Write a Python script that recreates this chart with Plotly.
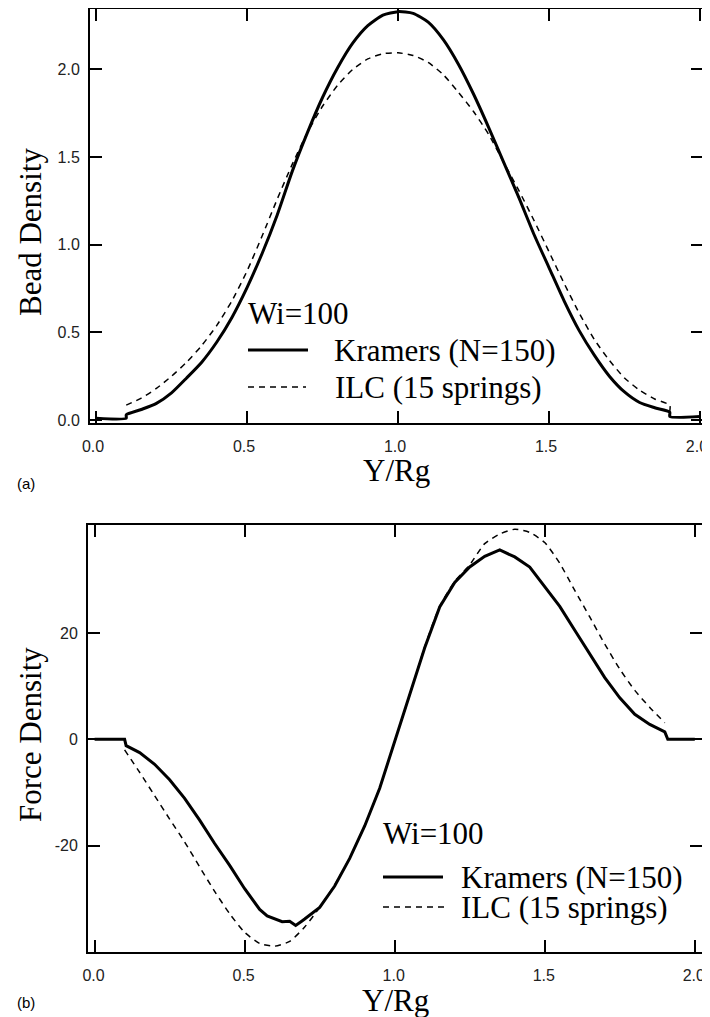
import plotly.graph_objects as go

# ---------------- data ----------------
# Panel (a): bead density
xa_kramers = [0.0, 0.1, 0.1, 0.15, 0.2, 0.25, 0.3, 0.35, 0.4, 0.45, 0.5, 0.55, 0.6, 0.65, 0.7,
              0.75, 0.8, 0.85, 0.9, 0.95, 1.0, 1.05, 1.1, 1.15, 1.2, 1.25, 1.3, 1.35, 1.4,
              1.45, 1.5, 1.55, 1.6, 1.65, 1.7, 1.75, 1.8, 1.85, 1.9, 1.9, 2.0]
ya_kramers = [0.01, 0.01, 0.03, 0.06, 0.095, 0.155, 0.24, 0.33, 0.445, 0.585, 0.755, 0.95, 1.17, 1.42, 1.64,
              1.84, 2.01, 2.15, 2.25, 2.31, 2.33, 2.32, 2.27, 2.17, 2.03, 1.86, 1.67, 1.47, 1.27,
              1.06, 0.87, 0.68, 0.51, 0.37, 0.25, 0.16, 0.10, 0.07, 0.045, 0.02, 0.02]

xa_ilc = [0.1, 0.15, 0.2, 0.25, 0.3, 0.35, 0.4, 0.45, 0.5, 0.55, 0.6, 0.65, 0.7, 0.75, 0.8,
          0.85, 0.9, 0.95, 1.0, 1.05, 1.1, 1.15, 1.2, 1.25, 1.3, 1.35, 1.4, 1.45, 1.5, 1.55,
          1.6, 1.65, 1.7, 1.75, 1.8, 1.85, 1.9, 1.9]
ya_ilc = [0.085, 0.125, 0.18, 0.25, 0.33, 0.425, 0.54, 0.68, 0.85, 1.05, 1.26, 1.46, 1.64, 1.79, 1.91,
          2.00, 2.06, 2.09, 2.095, 2.08, 2.04, 1.97, 1.87, 1.76, 1.63, 1.47, 1.31, 1.14, 0.96, 0.78,
          0.61, 0.46, 0.34, 0.24, 0.17, 0.12, 0.085, 0.05]

# Panel (b): force density
xb_kramers = [0.0, 0.1, 0.105, 0.15, 0.2, 0.25, 0.3, 0.35, 0.4, 0.45, 0.5, 0.55, 0.575, 0.6, 0.625,
              0.65, 0.67, 0.69, 0.7, 0.75, 0.8, 0.85, 0.9, 0.95, 1.0, 1.05, 1.1, 1.15, 1.2, 1.25,
              1.3, 1.35, 1.375, 1.4, 1.45, 1.5, 1.55, 1.6, 1.65, 1.7, 1.75, 1.8, 1.85, 1.9, 1.91, 2.0]
yb_kramers = [0.0, 0.0, -1.2, -2.5, -4.7, -7.6, -11.1, -15.2, -19.6, -23.7, -28.1, -32.0, -33.2, -33.8, -34.3,
              -34.2, -35.0, -34.2, -33.8, -31.6, -27.6, -22.4, -16.3, -9.2, -0.5, 8.1, 17.2, 24.9, 29.5, 32.4,
              34.4, 35.6, 35.0, 34.3, 32.4, 28.7, 25.0, 20.5, 16.0, 11.6, 7.8, 4.7, 2.8, 1.4, 0.0, 0.0]

xb_ilc = [0.1, 0.15, 0.2, 0.25, 0.3, 0.35, 0.4, 0.45, 0.5, 0.55, 0.6, 0.65, 0.7, 0.75, 0.8,
          0.85, 0.9, 0.95, 1.0, 1.05, 1.1, 1.15, 1.2, 1.25, 1.3, 1.35, 1.4, 1.45, 1.5, 1.55,
          1.6, 1.65, 1.7, 1.75, 1.8, 1.85, 1.9]
yb_ilc = [-2.0, -6.2, -10.6, -15.0, -19.3, -24.0, -28.6, -32.8, -36.3, -38.4, -38.9, -38.0, -35.3, -31.6, -27.4,
          -22.3, -16.2, -9.1, -0.4, 8.3, 17.4, 25.0, 29.7, 32.8, 36.8, 38.6, 39.5, 38.9, 37.0, 33.1,
          28.0, 23.0, 17.9, 13.2, 9.2, 6.0, 3.1]

x_ticks = [0.0, 0.5, 1.0, 1.5, 2.0]
x_ticktext = ["0.0", "0.5", "1.0", "1.5", "2.0"]
ya_ticks = [0.0, 0.5, 1.0, 1.5, 2.0]
ya_ticktext = ["0.0", "0.5", "1.0", "1.5", "2.0"]
yb_ticks = [-20, 0, 20]
yb_ticktext = ["-20", "0", "20"]

series_names = ["Kramers (N=150)", "ILC (15 springs)"]
legend_title = "Wi=100"
x_title = "Y/Rg"
ya_title = "Bead Density"
yb_title = "Force Density"

# ---------------- figure ----------------
# The page body has an 8px margin, so the figure is drawn 8px smaller and
# all window-pixel positions below are shifted by that offset.
OFF = 8
W, H = 710 - OFF, 1017 - OFF
SERIF = "Liberation Serif, Times New Roman, serif"
SANS = "Liberation Sans, Arial, sans-serif"

def px(x):
    return (x - OFF) / W

def py(y):
    return 1 - (y - OFF) / H

solid = dict(color="black", width=3)
dashed = dict(color="black", width=1.5, dash="6px,5px")

fig = go.Figure()
fig.add_trace(go.Scatter(x=xa_kramers, y=ya_kramers, mode="lines",
                         line=dict(solid, shape="spline", smoothing=0.6),
                         name=series_names[0], xaxis="x", yaxis="y", showlegend=False))
fig.add_trace(go.Scatter(x=xa_ilc, y=ya_ilc, mode="lines",
                         line=dict(dashed, shape="spline", smoothing=0.6),
                         name=series_names[1], xaxis="x", yaxis="y", showlegend=False))
fig.add_trace(go.Scatter(x=xb_kramers, y=yb_kramers, mode="lines", line=solid,
                         name=series_names[0], xaxis="x2", yaxis="y2", showlegend=False))
fig.add_trace(go.Scatter(x=xb_ilc, y=yb_ilc, mode="lines",
                         line=dict(dashed, shape="spline", smoothing=0.6),
                         name=series_names[1], xaxis="x2", yaxis="y2", showlegend=False))

axis_common = dict(showline=True, linecolor="black", linewidth=2, mirror="ticks",
                   ticks="inside", ticklen=12, tickwidth=1.5, tickcolor="black",
                   showgrid=False, zeroline=False, automargin=False,
                   ticklabeloverflow="allow",
                   tickfont=dict(family=SANS, size=16, color="#222"))

fig.update_layout(
    width=W, height=H,
    margin=dict(l=0, r=0, t=0, b=0, autoexpand=False),
    paper_bgcolor="white", plot_bgcolor="white",
    xaxis=dict(domain=[px(90), px(703)], anchor="y", range=[-0.02, 2.01],
               tickmode="array", tickvals=x_ticks, ticktext=x_ticktext,
               ticklabelstandoff=8, ticklabelshift=-3, **axis_common),
    yaxis=dict(domain=[py(423), py(9)], anchor="x", range=[-0.017, 2.345],
               tickmode="array", tickvals=ya_ticks, ticktext=ya_ticktext,
               ticklabelstandoff=5, **axis_common),
    xaxis2=dict(domain=[px(88), px(702)], anchor="y2", range=[-0.022, 2.024],
                tickmode="array", tickvals=x_ticks, ticktext=x_ticktext,
                ticklabelstandoff=8, ticklabelshift=-1, **axis_common),
    yaxis2=dict(domain=[py(952), py(525)], anchor="x2", range=[-40, 40.3],
                tickmode="array", tickvals=yb_ticks, ticktext=yb_ticktext,
                ticklabelstandoff=5, **axis_common),
)

ann = []
def text(x, y, s, size=31, family=SERIF, xanchor="left", angle=0):
    ann.append(dict(x=px(x), y=py(y), xref="paper", yref="paper", text=s,
                    showarrow=False, xanchor=xanchor, yanchor="middle", textangle=angle,
                    font=dict(family=family, size=size, color="black")))

# axis titles
text(30, 232, ya_title, xanchor="center", angle=-90)
text(30, 735, yb_title, xanchor="center", angle=-90)
text(396, 470, x_title, xanchor="center")
text(395, 1000, x_title, xanchor="center")
# panel labels
text(26, 483, "(a)", size=15, family=SANS, xanchor="center")
text(26, 1002, "(b)", size=15, family=SANS, xanchor="center")
# legend (a)
text(246, 314, legend_title)
text(332, 350, series_names[0])
text(333, 387, series_names[1])
# legend (b)
text(381, 833, legend_title)
text(459, 877, series_names[0])
text(459, 907, series_names[1])

shapes = [
    dict(type="line", xref="paper", yref="paper", x0=px(248), x1=px(308), y0=py(350), y1=py(350),
         line=dict(color="black", width=3)),
    dict(type="line", xref="paper", yref="paper", x0=px(248), x1=px(306), y0=py(387), y1=py(387),
         line=dict(color="black", width=1.5, dash="6px,5px")),
    dict(type="line", xref="paper", yref="paper", x0=px(383), x1=px(443), y0=py(877), y1=py(877),
         line=dict(color="black", width=3)),
    dict(type="line", xref="paper", yref="paper", x0=px(383), x1=px(445), y0=py(907), y1=py(907),
         line=dict(color="black", width=1.5, dash="6px,5px")),
]

fig.update_layout(annotations=ann, shapes=shapes)
fig.write_html("out.html")
